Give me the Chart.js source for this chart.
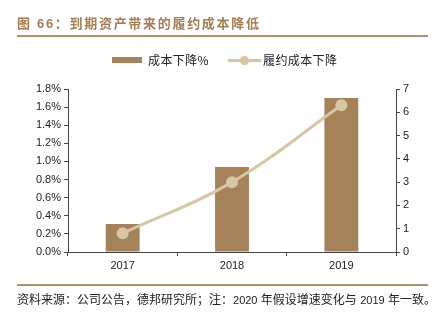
<!DOCTYPE html>
<html><head><meta charset="utf-8">
<script src="https://cdn.jsdelivr.net/npm/chart.js@4"></script>
<style>
html,body{margin:0;padding:0;background:#fff;}
#wrap{position:relative;width:440px;height:325px;overflow:hidden;font-family:"Liberation Sans","Noto Sans CJK SC",sans-serif;}
#title{position:absolute;left:17px;top:15px;font-size:13px;letter-spacing:1.7px;font-weight:bold;color:#a67c52;font-family:"Liberation Sans","Noto Sans CJK SC",sans-serif;white-space:nowrap;line-height:18px;}
#topline{position:absolute;left:17px;top:35px;width:411px;height:2px;background:#b48d69;}
#botline{position:absolute;left:17px;top:284px;width:411px;height:2px;background:#b48d69;}
#src{position:absolute;left:17px;top:292px;font-size:12px;color:#222;white-space:nowrap;line-height:16px;font-family:"Liberation Sans","Noto Sans CJK SC",sans-serif;}
#src .n{font-size:11px;}
#legend{position:absolute;top:52px;left:0;width:440px;height:16px;font-size:12px;letter-spacing:0.4px;color:#222;font-family:"Noto Sans CJK SC",sans-serif;}
.sw{position:absolute;}
.lt{position:absolute;top:0;line-height:16px;white-space:nowrap;}
canvas{position:absolute;left:0;top:0;}
</style></head>
<body><div id="wrap">
<canvas id="c" width="440" height="325"></canvas>
<div id="title">图 66：到期资产带来的履约成本降低</div>
<div id="topline"></div>
<div id="legend">
  <div class="sw" style="left:112px;top:5px;width:30px;height:6px;background:#a6825a;"></div>
  <div class="lt" style="left:148px;">成本下降%</div>
  <div class="sw" style="left:228px;top:7px;width:33px;height:3px;background:#d6c6a3;"></div>
  <div class="sw" style="left:240px;top:4px;width:9px;height:9px;border-radius:50%;background:#d6c6a3;"></div>
  <div class="lt" style="left:263px;">履约成本下降</div>
</div>
<div id="botline"></div>
<div id="src">资料来源：公司公告，德邦研究所；注：<span class="n">2020</span> 年假设增速变化与 <span class="n">2019</span> 年一致。</div>
</div>
<script>
const categories = ['2017', '2018', '2019'];
const costDropPct = [0.0031, 0.0094, 0.0170];
const fulfilCostDrop = [0.8, 3.0, 6.3];
const leftTicks = [0, 0.002, 0.004, 0.006, 0.008, 0.010, 0.012, 0.014, 0.016, 0.018];
const rightTicks = [0, 1, 2, 3, 4, 5, 6, 7];

const tickFont = {family: '"Liberation Sans", Arial, sans-serif', size: 11};
new Chart(document.getElementById('c'), {
  type: 'bar',
  data: {
    labels: categories,
    datasets: [
      {type: 'line', label: '履约成本下降', data: fulfilCostDrop, yAxisID: 'y1',
       borderColor: '#d6c6a3', backgroundColor: '#d6c6a3', borderWidth: 3,
       pointRadius: 4.5, pointHoverRadius: 4.5, tension: 0.4, order: 0},
      {label: '成本下降%', data: costDropPct, yAxisID: 'y',
       backgroundColor: '#a6825a', borderColor: '#e3d3bb', borderWidth: 0,
       categoryPercentage: 1, barPercentage: 0.31, order: 1}
    ]
  },
  options: {
    responsive: false, animation: false,
    layout: {padding: {top: 89, left: 0, right: 0, bottom: 0}},
    plugins: {legend: {display: false}, tooltip: {enabled: false}},
    scales: {
      x: {
        offset: true,
        grid: {offset: true, drawOnChartArea: false, drawTicks: true, tickLength: 4, color: '#444'},
        border: {color: '#444', width: 1},
        ticks: {font: tickFont, color: '#222', padding: 3},
        afterFit: s => { s.height = 73; }
      },
      y: {
        position: 'left', min: 0, max: 0.018,
        afterBuildTicks: s => { s.ticks = leftTicks.map(v => ({value: v})); },
        grid: {drawOnChartArea: false, tickLength: 4, color: '#444'},
        border: {color: '#444', width: 1},
        ticks: {font: tickFont, color: '#222', padding: 3, callback: v => (v * 100).toFixed(1) + '%'},
        afterFit: s => { s.width = 68; }
      },
      y1: {
        position: 'right', min: 0, max: 7,
        afterBuildTicks: s => { s.ticks = rightTicks.map(v => ({value: v})); },
        grid: {drawOnChartArea: false, tickLength: 4, color: '#444'},
        border: {color: '#444', width: 1},
        ticks: {font: tickFont, color: '#222', padding: 3},
        afterFit: s => { s.width = 44; }
      }
    }
  }
});
</script>
</body></html>
